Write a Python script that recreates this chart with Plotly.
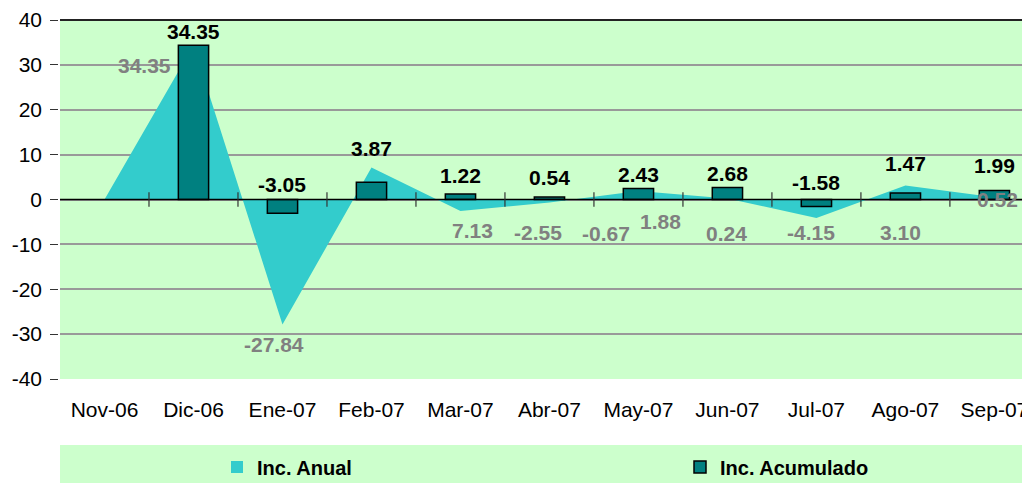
import plotly.graph_objects as go

# ---------------- data ----------------
months = ["Nov-06", "Dic-06", "Ene-07", "Feb-07", "Mar-07", "Abr-07",
          "May-07", "Jun-07", "Jul-07", "Ago-07", "Sep-07"]
inc_anual = [0.0, 34.35, -27.84, 7.13, -2.55, -0.67, 1.88, 0.24, -4.15, 3.10, 0.52]
inc_acumulado = [None, 34.35, -3.05, 3.87, 1.22, 0.54, 2.43, 2.68, -1.58, 1.47, 1.99]
y_ticks = [-40, -30, -20, -10, 0, 10, 20, 30, 40]

# ---------------- label placement (layout only) ----------------
bar_label_y = [None, 37.4, 3.3, 11.4, 5.3, 4.9, 5.5, 5.9, 3.9, 8.1, 7.5]
anual_label_x = [None, 0.455, 1.90, 4.14, 4.87, 5.63, 6.25, 6.99, 7.94, 8.95, 10.03]
anual_label_y = [None, 29.8, -32.4, -6.9, -7.3, -7.6, -4.8, -7.5, -7.3, -7.3, 0.0]

FONT = "Arial, Liberation Sans, sans-serif"
AREA_COLOR = "#33CCCC"
BAR_COLOR = "#008080"

# page body has an 8px margin; figure is sized so the plot lands where the reference has it
FIG_W, FIG_H = 1022, 475
M_L, M_R, M_T, M_B = 52, 0, 12, 104
plot_h = FIG_H - M_T - M_B
plot_w = FIG_W - M_L - M_R

fig = go.Figure()

fig.add_trace(go.Scatter(
    x=months, y=inc_anual, mode="none", fill="tozeroy",
    fillcolor=AREA_COLOR, name="Inc. Anual", showlegend=False,
    hoverinfo="x+y", zorder=0))

# legend proxy (square swatch like the original)
fig.add_trace(go.Bar(x=[months[0]], y=[None], name="Inc. Anual", legend="legend",
                     marker=dict(color=AREA_COLOR, line=dict(width=0))))

fig.add_trace(go.Bar(
    x=months, y=inc_acumulado, width=0.34, name="Inc. Acumulado", legend="legend2",
    marker=dict(color=BAR_COLOR, line=dict(color="black", width=1.5)), zorder=1))

annotations = []
for i, v in enumerate(inc_acumulado):
    if v is None:
        continue
    annotations.append(dict(
        x=i, y=bar_label_y[i], xref="x", yref="y", text=f"{v:.2f}",
        showarrow=False, font=dict(family=FONT, size=21, color="black", weight="bold")))
for i, v in enumerate(inc_anual):
    if anual_label_x[i] is None:
        continue
    annotations.append(dict(
        x=anual_label_x[i], y=anual_label_y[i], xref="x", yref="y", text=f"{v:.2f}",
        showarrow=False, font=dict(family=FONT, size=21, color="#808080", weight="bold")))

shapes = []
# legend band (page y 445..483 -> figure y 437..475)
shapes.append(dict(type="rect", xref="paper", yref="paper",
                   x0=0, x1=1, y0=(M_T + plot_h - FIG_H) / plot_h,
                   y1=(M_T + plot_h - 437) / plot_h,
                   fillcolor="#CCFFCC", line=dict(width=0), layer="below"))
shapes.append(dict(type="line", xref="paper", yref="y", x0=0, x1=1, y0=0, y1=0,
                   line=dict(color="black", width=1.3), layer="above"))
shapes.append(dict(type="line", xref="paper", yref="paper", x0=0, x1=1, y0=1, y1=1,
                   line=dict(color="#222222", width=2), layer="above"))
for i in range(len(months) - 1):
    shapes.append(dict(type="line", xref="x", yref="y", x0=i + 0.5, x1=i + 0.5,
                       y0=-1.6, y1=1.6, line=dict(color="#333333", width=1.2),
                       layer="above"))

legend_font = dict(family=FONT, size=20, color="black", weight="bold")
leg_y = (M_T + plot_h - 459) / plot_h
fig.update_layout(
    width=FIG_W, height=FIG_H,
    margin=dict(l=M_L, r=M_R, t=M_T, b=M_B, autoexpand=False),
    paper_bgcolor="white", plot_bgcolor="#CCFFCC",
    font=dict(family=FONT, color="black"),
    barmode="overlay",
    showlegend=True,
    legend=dict(orientation="h", x=(217 - M_L - 8) / plot_w, xanchor="left", y=leg_y,
                yanchor="middle", bgcolor="rgba(0,0,0,0)", font=legend_font),
    legend2=dict(orientation="h", x=(680 - M_L - 8) / plot_w, xanchor="left", y=leg_y,
                 yanchor="middle", bgcolor="rgba(0,0,0,0)", font=legend_font),
    annotations=annotations, shapes=shapes,
)

fig.update_xaxes(
    type="category", categoryorder="array", categoryarray=months,
    range=[-0.5, 10.4], showgrid=False, zeroline=False, automargin=False,
    ticks="", tickfont=dict(family=FONT, size=21, color="black"),
    ticklabelstandoff=11, ticklabeloverflow="allow",
    showline=True, linecolor="black", linewidth=1.5, mirror=True)

fig.update_yaxes(
    range=[-40, 40], tickvals=y_ticks, ticktext=[str(t) for t in y_ticks],
    showgrid=True, gridcolor="#999999", gridwidth=1.5, zeroline=False,
    automargin=False,
    ticks="outside", ticklen=8, tickcolor="#333333", tickwidth=1,
    ticklabelstandoff=4,
    tickfont=dict(family=FONT, size=21, color="black"),
    showline=True, linecolor="black", linewidth=1.5)

fig.write_html("out.html")
